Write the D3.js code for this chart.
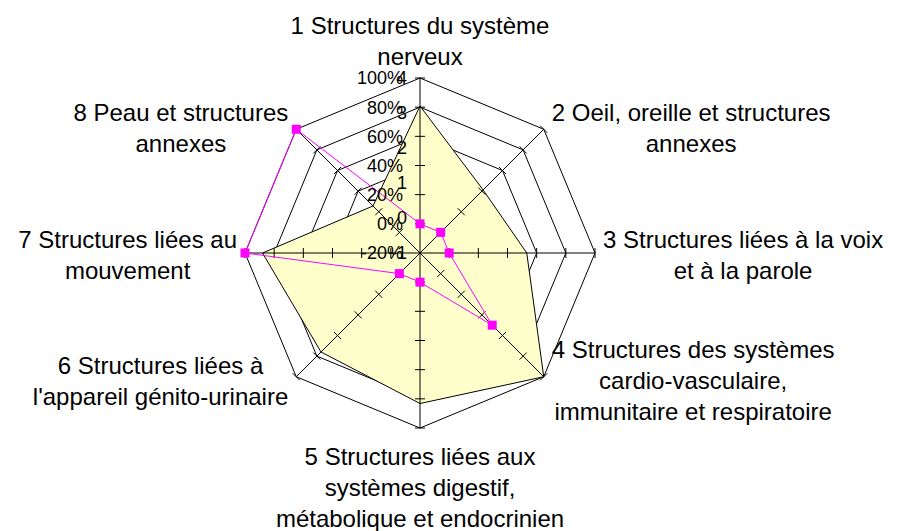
<!DOCTYPE html>
<html>

<head>
  <title>Radar structures</title>
  <script src="https://d3js.org/d3.v7.min.js"></script>
  <style>
    body { margin: 0; background: #fff; }
    text { font-family: Arial, "Liberation Sans", sans-serif; fill: #000; }
  </style>
</head>

<body>
  <svg id="radar" height=531 width=897></svg>

  <script>
    // axis categories, each one split on the lines shown in the chart
    const categories = [
      ["1 Structures du système", "nerveux"],
      ["2 Oeil, oreille et structures", "annexes"],
      ["3 Structures liées à la voix", "et à la parole"],
      ["4 Structures des systèmes", "cardio-vasculaire,", "immunitaire et respiratoire"],
      ["5 Structures liées aux", "systèmes digestif,", "métabolique et endocrinien"],
      ["6 Structures liées à", "l'appareil génito-urinaire"],
      ["7 Structures liées au", "mouvement"],
      ["8 Peau et structures", "annexes"]
    ];

    // yellow area, read on the numeric axis (-1 .. 4)
    const areaValues = [3.2, 1.55, 2.05, 4, 3.3, 3, 3.5, 0.9];
    // pink line, read on the percent axis (-20% .. 100%)
    const lineValues = [0, 0, 0, 0.5, 0, 0, 1, 1];

    const pctTicks = [-0.2, 0, 0.2, 0.4, 0.6, 0.8, 1];
    const numTicks = [-1, 0, 1, 2, 3, 4];

    const svg = d3.select("svg#radar");
    const cx = 420, cy = 253, R = 175;

    const rPct = d3.scaleLinear().domain([-0.2, 1]).range([0, R]);
    const rNum = d3.scaleLinear().domain([-1, 4]).range([0, R]);
    const angle = d3.scaleLinear().domain([0, categories.length]).range([0, 2 * Math.PI]);

    // polar -> screen, angle 0 pointing up, clockwise
    const pt = (i, r) => [cx + r * Math.sin(angle(i)), cy - r * Math.cos(angle(i))];
    const idx = d3.range(categories.length);

    // rings (octagons) on each percent step
    const rings = svg.append("g");
    pctTicks.filter(t => t > -0.2).forEach(t => {
      rings.append("polygon")
        .attr("points", idx.map(i => pt(i, rPct(t)).join(",")).join(" "))
        .attr("fill", "none")
        .attr("stroke", "#000")
        .attr("stroke-width", 1);
    });

    // yellow filled series
    svg.append("polygon")
      .attr("points", areaValues.map((v, i) => pt(i, rNum(v)).join(",")).join(" "))
      .attr("fill", "#FFFFCC")
      .attr("stroke", "#000")
      .attr("stroke-width", 1);

    // spokes + cross ticks
    const axes = svg.append("g");
    idx.forEach(i => {
      const end = pt(i, R);
      axes.append("line")
        .attr("x1", cx).attr("y1", cy)
        .attr("x2", end[0]).attr("y2", end[1])
        .attr("stroke", "#000");
      const a = angle(i);
      const px = Math.cos(a) * 5, py = Math.sin(a) * 5;
      pctTicks.filter(t => t > -0.2).forEach(t => {
        const p = pt(i, rPct(t));
        axes.append("line")
          .attr("x1", p[0] - px).attr("y1", p[1] - py)
          .attr("x2", p[0] + px).attr("y2", p[1] + py)
          .attr("stroke", "#000");
      });
    });

    // pink series with square markers
    const linePts = lineValues.map((v, i) => pt(i, rPct(v)));
    svg.append("path")
      .attr("d", d3.line().curve(d3.curveLinearClosed)(linePts))
      .attr("fill", "none")
      .attr("stroke", "#FF00FF")
      .attr("stroke-width", 1);
    svg.append("g").selectAll("rect")
      .data(linePts)
      .join("rect")
      .attr("x", d => d[0] - 4.5)
      .attr("y", d => d[1] - 4.5)
      .attr("width", 9)
      .attr("height", 9)
      .attr("fill", "#FF00FF");

    // value labels of both axes, stacked on the vertical spoke
    const tickLabels = svg.append("g").style("font-size", "18px");
    pctTicks.forEach(t => {
      tickLabels.append("text")
        .attr("x", cx - 17)
        .attr("y", cy - rPct(t))
        .attr("dy", "0.36em")
        .attr("text-anchor", "end")
        .text(d3.format(".0%")(t).replace("−", "-"));
    });
    numTicks.forEach(t => {
      tickLabels.append("text")
        .attr("x", cx - 13)
        .attr("y", cy - rNum(t))
        .attr("dy", "0.36em")
        .attr("text-anchor", "end")
        .text(String(t));
    });

    // category labels around the chart
    const lh = 31;
    const catLabels = svg.append("g").style("font-size", "24px");
    categories.forEach((lines, i) => {
      const [ex, ey] = pt(i, R);
      const s = Math.sin(angle(i)), c = Math.cos(angle(i));
      const g = catLabels.append("g");
      const texts = lines.map(l => g.append("text").attr("text-anchor", "middle").text(l));
      const w = d3.max(texts, t => t.node().getComputedTextLength());
      const n = lines.length;

      let x, y0;
      if (Math.abs(s) < 0.1) {
        x = ex;
        y0 = c > 0 ? ey - 13 - (n - 1) * lh : ey + 37;
      } else {
        x = s > 0 ? ex + 8 + w / 2 : ex - 8 - w / 2;
        y0 = ey + 10 - 3.5 * c - (n - 1) * lh / 2;
      }
      texts.forEach((t, k) => t.attr("x", x).attr("y", y0 + k * lh));
    });
  </script>
</body>

</html>
